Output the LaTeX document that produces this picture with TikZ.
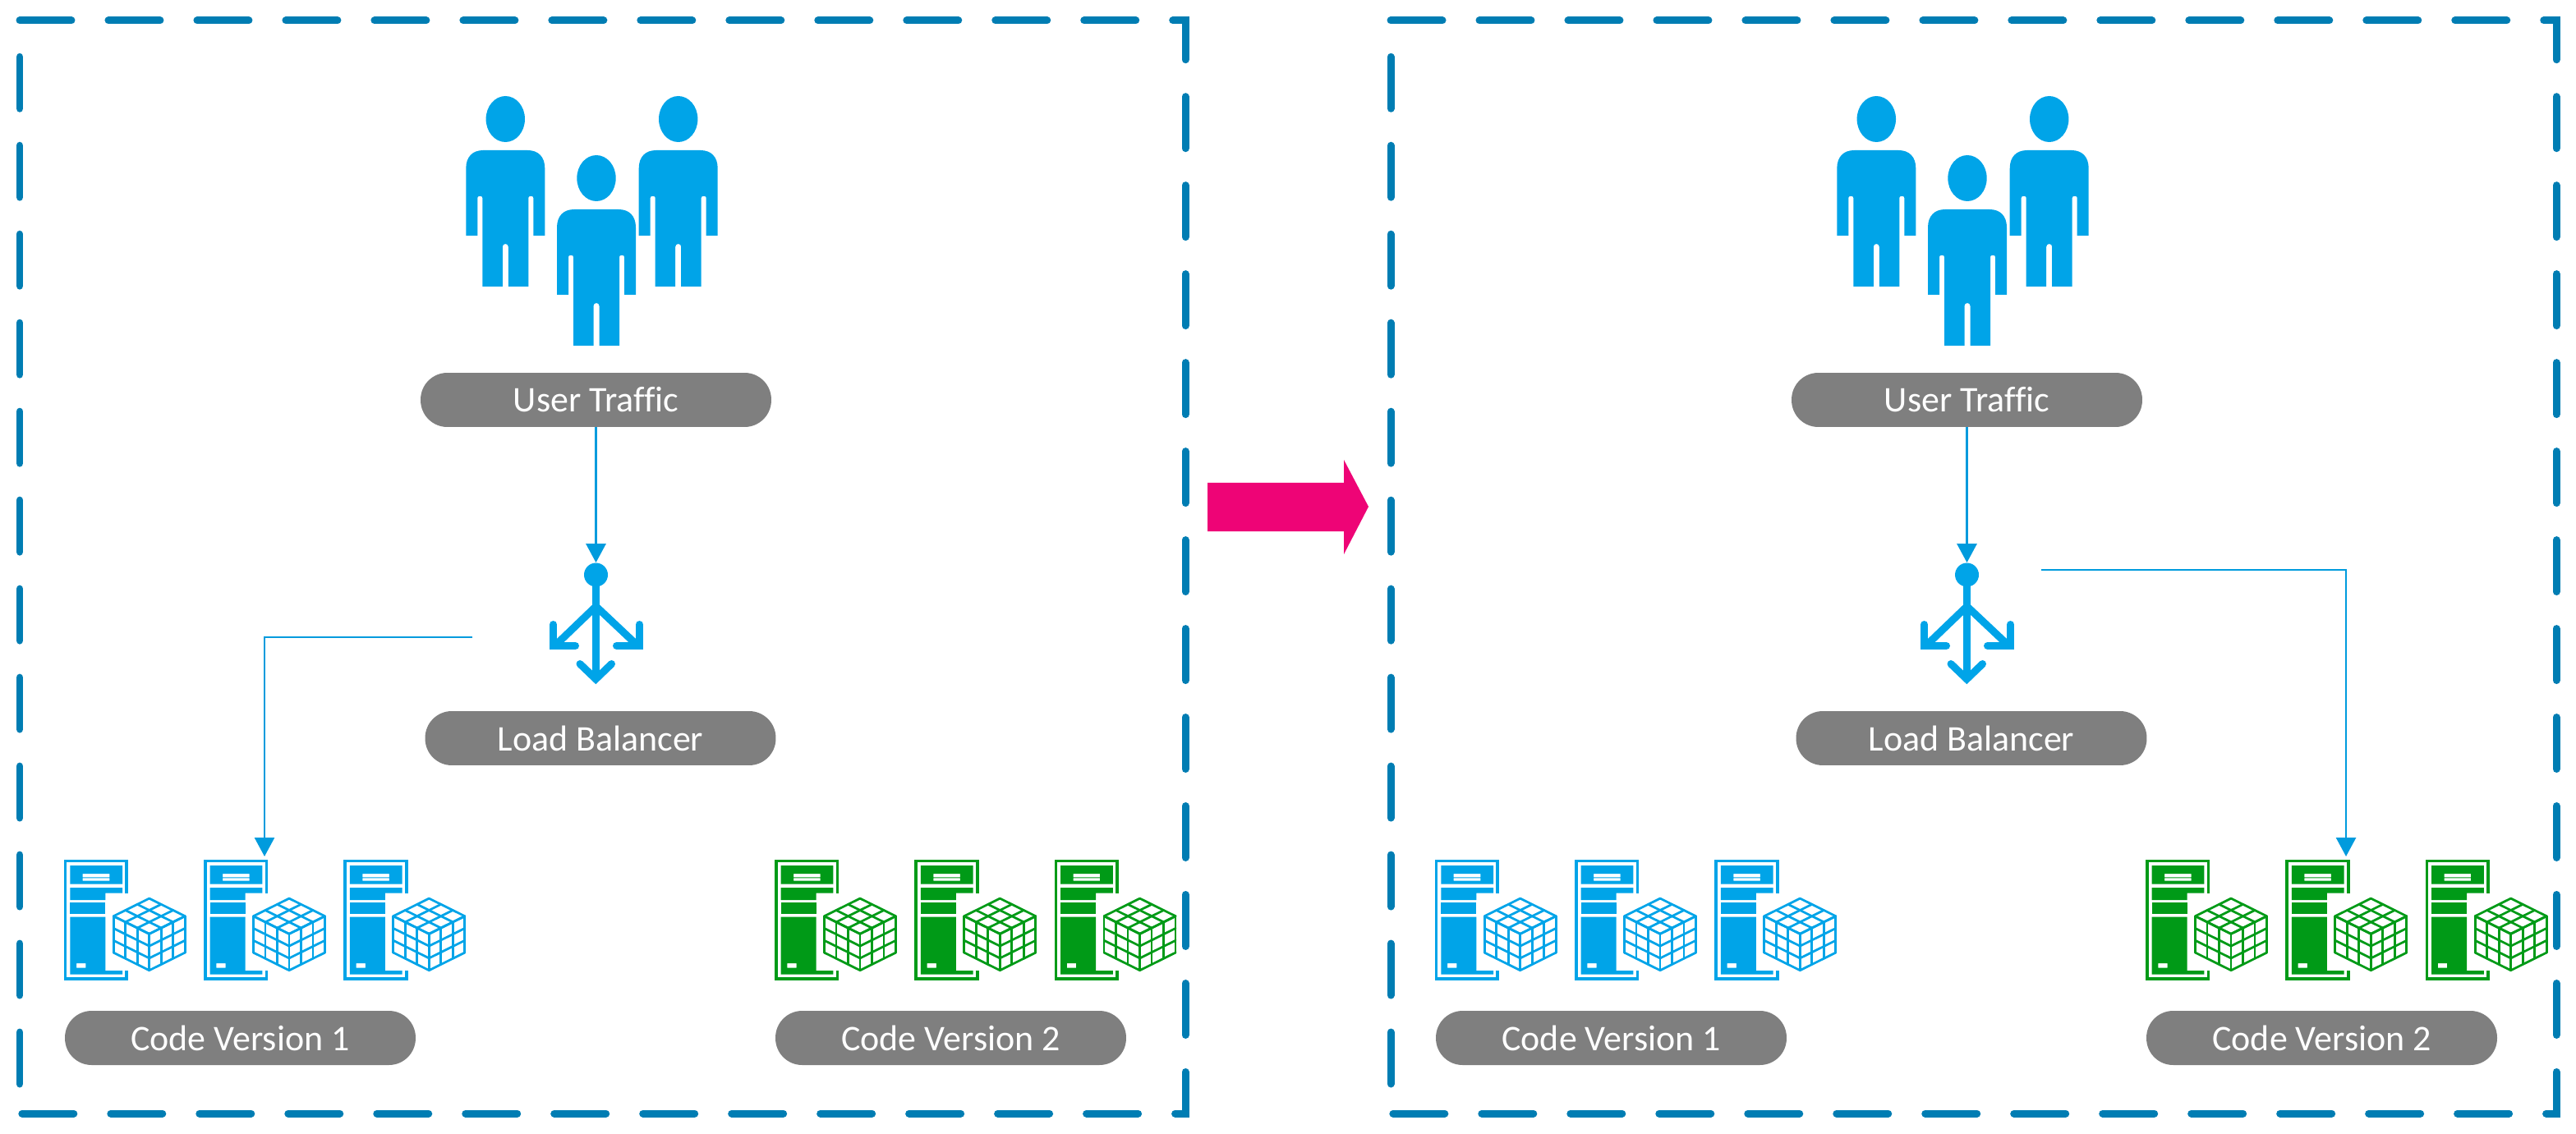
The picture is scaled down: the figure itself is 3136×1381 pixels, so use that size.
\documentclass[tikz,border=0pt]{standalone}
\usepackage{fontspec}
\setmainfont[Ligatures=NoCommon]{Carlito}
\usetikzlibrary{arrows.meta}
\definecolor{iconblue}{HTML}{00A4E8}
\definecolor{linkblue}{HTML}{009BDD}
\definecolor{icongreen}{HTML}{009A17}
\definecolor{framecol}{HTML}{007DB3}
\definecolor{pillgrey}{HTML}{7F7F7F}
\definecolor{bigarrow}{HTML}{EE0476}
\tikzset{
  x=0.02cm,y=-0.02cm,
  frame/.style={draw=framecol,line width=0.18cm,line cap=round,line join=miter,dash pattern=on 1.26cm off 0.9cm},
  pill/.style={fill=pillgrey,text=white,rounded corners=0.65cm,minimum width=8.54cm,minimum height=1.32cm,inner sep=0pt,font=\fontsize{25}{25}\selectfont},
  link/.style={draw=linkblue,line width=0.055cm,-{Triangle[length=0.46cm,width=0.48cm,fill=linkblue]}},
  person/.pic={
    \fill[iconblue] (0,0) ellipse [x radius=23.7,y radius=28];
    \fill[iconblue] (-48,142) -- (-48,60) .. controls (-48,46) and (-40,38) .. (-27,38) -- (27,38) .. controls (40,38) and (48,46) .. (48,60) -- (48,142) -- (34,142) -- (34,96)
      .. controls (34,94.5) and (33,94) .. (32,94) -- (30,94) .. controls (29,94) and (28,94.5) .. (28,96) -- (28,204) -- (3.5,204) -- (3.5,155.5) .. controls (3.5,153.5) and (2,152) .. (0,152) .. controls (-2,152) and (-3.5,153.5) .. (-3.5,155.5) -- (-3.5,204) -- (-28,204) -- (-28,96) .. controls (-28,94.5) and (-29,94) .. (-30,94) -- (-32,94)
      .. controls (-33,94) and (-34,94.5) .. (-34,96) -- (-34,142) -- cycle;
  },
  server/.pic={
    \draw[line width=0.07cm,line join=miter,line cap=butt,draw=servcol] (76.5,41) -- (76.5,1.8) -- (1.8,1.8) -- (1.8,145.2) -- (76.5,145.2) -- (76.5,135.3);
    \fill[servcol,even odd rule] (7.6,7.3) rectangle (71.3,30)
       (23,17.3) rectangle (55.6,21.6) (23,22.6) rectangle (55.6,26);
    \fill[servcol] (7.6,34.3) -- (71.3,34.3) -- (71.3,41) -- (50.6,41) -- (50.6,49.3) -- (7.6,49.3) -- cycle;
    \fill[servcol] (7.6,52.6) rectangle (50.6,66);
    \fill[servcol,even odd rule] (7.6,70) -- (50.6,70) -- (50.6,135.3) -- (71.3,135.3) -- (71.3,140) -- (7.6,140) -- cycle
       (15.3,126.3) rectangle (26.6,132);
    \begin{scope}[shift={(104,90.6)},draw=servcol,line width=0.055cm,line join=round,line cap=round]
      \foreach \i in {0,1,2,3} {
        \draw ({\i*14.5},{-\i*7.2}) -- ++(-43.5,-21.6);
        \draw ({-\i*14.5},{-\i*7.2}) -- ++(43.5,-21.6);
        \draw ({\i*14.5},{-\i*7.2}) -- ++(0,44.4);
        \draw ({-\i*14.5},{-\i*7.2}) -- ++(0,44.4);
        \draw (0,{\i*14.8}) -- ++(43.5,-21.6);
        \draw (0,{\i*14.8}) -- ++(-43.5,-21.6);
      }
    \end{scope}
  },
  balstroke/.style={draw=iconblue,line width=0.18cm},
  baldot/.style={circle,fill=iconblue,minimum size=0.58cm,inner sep=0pt},
}
\begin{document}
\begin{tikzpicture}
\useasboundingbox (0,0) rectangle (3136,1381);
\foreach \ox/\pn in {0/a,1669/b} {
\begin{scope}[shift={(\ox,0)}]
  \draw[frame] (24,25) -- (1443,25) -- (1443,1356) -- (24,1356);
  \draw[frame,dash phase=1.44cm] (24,1356) -- (24,25);
  \pic at (615.3,145) {person};
  \pic at (825.7,145) {person};
  \pic at (726,217) {person};
  \node[pill] (ut\pn) at (725.5,487) {User Traffic};
  \node[pill] (lb\pn) at (731,899) {Load Balancer};
  \node[pill] (cva\pn) at (292.5,1264) {Code Version 1};
  \node[pill] (cvb\pn) at (1157.5,1264) {Code Version 2};
  \node[baldot] (dot\pn) at (725.5,700) {};
  \draw[balstroke,line cap=butt] (725.5,700) -- (725.5,827);
  \draw[balstroke,line cap=butt] (727,737) -- (676,786);
  \draw[balstroke,line cap=butt] (724,737) -- (776,786);
  \draw[balstroke,line cap=round,line join=miter] (673.5,760.5) -- (673.5,786.5) -- (700.5,786.5);
  \draw[balstroke,line cap=round,line join=miter] (778.5,760.5) -- (778.5,786.5) -- (750.5,786.5);
  \draw[balstroke,line cap=round,line join=miter] (706,808.5) -- (725.3,827) -- (744.5,808.5);
  \foreach \sx in {77.7,248,418.3} {
    \colorlet{servcol}{iconblue}
    \pic at (\sx,1046.7) {server};
  }
  \foreach \sx in {943,1113.3,1283.6} {
    \colorlet{servcol}{icongreen}
    \pic at (\sx,1046.7) {server};
  }
  \draw[link] (ut\pn.south -| dot\pn) -- (dot\pn.north);
\end{scope}
}
\coordinate (outa) at (575,776);
\coordinate (ina) at (322,1043);
\coordinate (outb) at (2485,694);
\coordinate (inb) at (2856,1043);
\draw[link] (outa) -| (ina);
\draw[link] (outb) -| (inb);
\fill[bigarrow] (1470,588) -- (1636,588) -- (1636,560) -- (1666,617) -- (1636,675) -- (1636,647) -- (1470,647) -- cycle;
\end{tikzpicture}
\end{document}
